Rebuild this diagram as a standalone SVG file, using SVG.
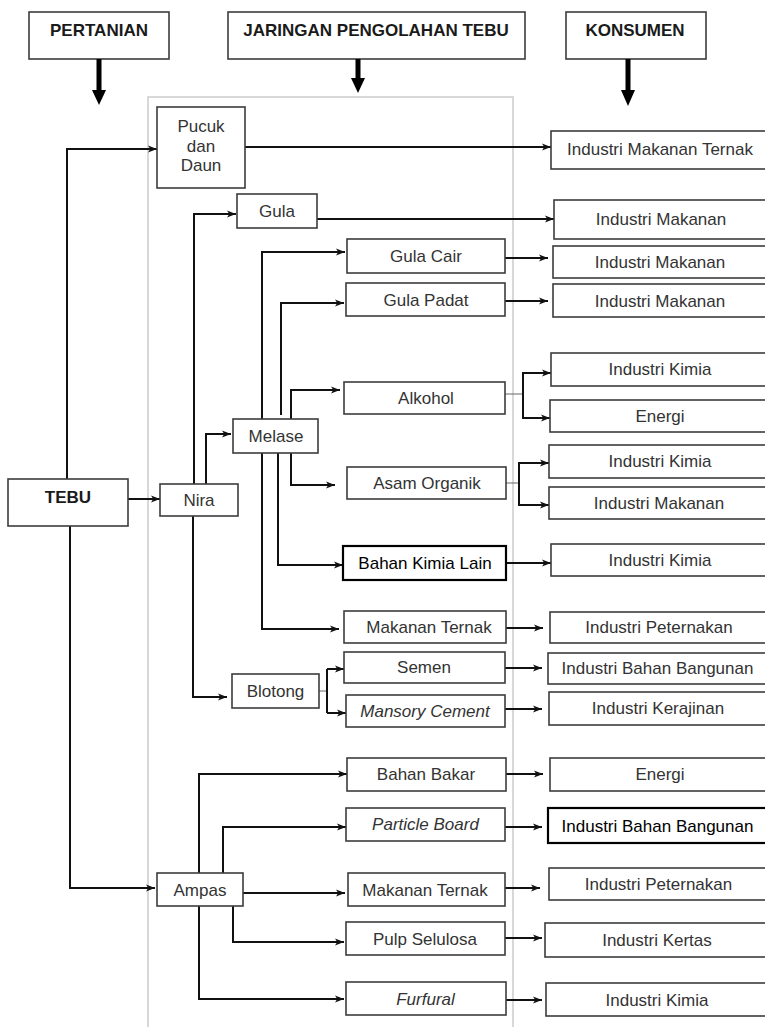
<svg xmlns="http://www.w3.org/2000/svg" width="765" height="1027" viewBox="0 0 765 1027">
<style>
.bx{fill:#fff;stroke:#3c3c3c;stroke-width:1.6}
.bk{fill:#fff;stroke:#000;stroke-width:2.2}
.t{font-family:"Liberation Sans",Arial,sans-serif;font-size:17px;fill:#333;text-anchor:middle}
.tb{font-family:"Liberation Sans",Arial,sans-serif;font-size:17px;fill:#000;text-anchor:middle}
.h{font-family:"Liberation Sans",Arial,sans-serif;font-size:17px;font-weight:bold;fill:#1a1a1a;text-anchor:middle}
.i{font-style:italic}
.c{fill:none;stroke:#111;stroke-width:2}
.th{fill:none;stroke:#666;stroke-width:1}
.frame{fill:none;stroke:#cfcfcf;stroke-width:1.6}
</style>
<defs>
<marker id="ar" viewBox="0 0 10 10" refX="10" refY="5" markerWidth="9" markerHeight="9" markerUnits="userSpaceOnUse" orient="auto">
<path d="M0,1 L10,5 L0,9 L2.5,5 z" fill="#111"/>
</marker>
</defs>
<rect class="frame" x="148" y="97" width="365" height="950"/>
<g id="headers">
<g id="h-pertanian"><rect class="bx" x="29" y="12" width="140" height="47"/><text class="h" x="99" y="36">PERTANIAN</text>
<rect x="96.5" y="59" width="5" height="32" fill="#000"/><path d="M92,90 L106,90 L99,105 z" fill="#000"/></g>
<g id="h-jaringan"><rect class="bx" x="228" y="12" width="297" height="47"/><text class="h" x="376" y="36">JARINGAN PENGOLAHAN TEBU</text>
<rect x="355.5" y="59" width="5" height="20" fill="#000"/><path d="M351,78 L365,78 L358,93 z" fill="#000"/></g>
<g id="h-konsumen"><rect class="bx" x="566" y="12" width="140" height="47"/><text class="h" x="635" y="36">KONSUMEN</text>
<rect x="625.5" y="59" width="5" height="32" fill="#000"/><path d="M621,90 L635,90 L628,106 z" fill="#000"/></g>
</g>
<g id="connectors">
<path class="c" d="M67,479 V149 H157" marker-end="url(#ar)"/>
<path class="c" d="M240,147 H551" marker-end="url(#ar)"/>
<path class="c" d="M128,499 H160" marker-end="url(#ar)"/>
<path class="c" d="M194,484 V214 H236" marker-end="url(#ar)"/>
<path class="c" d="M206,484 V434 H231" marker-end="url(#ar)"/>
<path class="c" d="M315,219 H554" marker-end="url(#ar)"/>
<path class="c" d="M262,419 V252 H345" marker-end="url(#ar)"/>
<path class="c" d="M281,415 V303 H344" marker-end="url(#ar)"/>
<path class="c" d="M291,419 V390 H340" marker-end="url(#ar)"/>
<path class="c" d="M291,453 V485 H335" marker-end="url(#ar)"/>
<path class="c" d="M278,453 V565 H343" marker-end="url(#ar)"/>
<path class="c" d="M262,453 V629 H339" marker-end="url(#ar)"/>
<path class="c" d="M193,516 V697 H227" marker-end="url(#ar)"/>
<path class="th" d="M319,691 H327"/>
<path class="c" d="M327,669 V713"/>
<path class="c" d="M327,669 H344" marker-end="url(#ar)"/>
<path class="c" d="M327,713 H346" marker-end="url(#ar)"/>
<path class="c" d="M503,258 H548" marker-end="url(#ar)"/>
<path class="c" d="M505,301 H548" marker-end="url(#ar)"/>
<path class="th" d="M505,394 H523"/>
<path class="c" d="M523,373 V418"/>
<path class="c" d="M522,373 H551" marker-end="url(#ar)"/>
<path class="c" d="M522,418 H550" marker-end="url(#ar)"/>
<path class="th" d="M506,483 H519"/>
<path class="c" d="M519,463 V505"/>
<path class="c" d="M518,463 H549" marker-end="url(#ar)"/>
<path class="c" d="M518,505 H549" marker-end="url(#ar)"/>
<path class="c" d="M506,563 H551" marker-end="url(#ar)"/>
<path class="c" d="M506,628 H543" marker-end="url(#ar)"/>
<path class="c" d="M503,668 H542" marker-end="url(#ar)"/>
<path class="c" d="M505,709 H542" marker-end="url(#ar)"/>
<path class="c" d="M70,526 V888 H155" marker-end="url(#ar)"/>
<path class="c" d="M199,873 V774 H347" marker-end="url(#ar)"/>
<path class="c" d="M223,873 V827 H346" marker-end="url(#ar)"/>
<path class="c" d="M243,893 H345" marker-end="url(#ar)"/>
<path class="c" d="M233,906 V942 H344" marker-end="url(#ar)"/>
<path class="c" d="M199,906 V999 H344" marker-end="url(#ar)"/>
<path class="c" d="M506,774 H543" marker-end="url(#ar)"/>
<path class="c" d="M505,827 H542" marker-end="url(#ar)"/>
<path class="c" d="M505,888 H540" marker-end="url(#ar)"/>
<path class="c" d="M505,938 H542" marker-end="url(#ar)"/>
<path class="c" d="M506,1000 H542" marker-end="url(#ar)"/>
</g>
<g id="tebu"><rect class="bx" x="8" y="479" width="120" height="47"/><text class="h" x="68" y="503">TEBU</text></g>
<g id="pucuk"><rect class="bx" x="157" y="107" width="88" height="81"/><text class="t" x="201" y="132">Pucuk</text><text class="t" x="201" y="152">dan</text><text class="t" x="201" y="171">Daun</text></g>
<g id="gula"><rect class="bx" x="237" y="194" width="80" height="34"/><text class="t" x="277" y="217">Gula</text></g>
<g id="melase"><rect class="bx" x="233" y="419" width="85" height="34"/><text class="t" x="276" y="442">Melase</text></g>
<g id="nira"><rect class="bx" x="160" y="484" width="78" height="32"/><text class="t" x="199" y="506">Nira</text></g>
<g id="blotong"><rect class="bx" x="232" y="674" width="87" height="34"/><text class="t" x="275.5" y="697">Blotong</text></g>
<g id="ampas"><rect class="bx" x="157" y="873" width="86" height="33"/><text class="t" x="200" y="896">Ampas</text></g>
<g id="gula-cair"><rect class="bx" x="347" y="239" width="158" height="34"/><text class="t" x="426" y="262">Gula Cair</text></g>
<g id="gula-padat"><rect class="bx" x="346" y="283" width="159" height="33"/><text class="t" x="426" y="306">Gula Padat</text></g>
<g id="alkohol"><rect class="bx" x="344" y="382" width="161" height="32"/><text class="t" x="426" y="404">Alkohol</text></g>
<g id="asam"><rect class="bx" x="347" y="467" width="159" height="32"/><text class="t" x="427" y="489">Asam Organik</text></g>
<g id="bkl"><rect class="bk" x="343" y="546" width="163" height="34"/><text class="tb" x="425" y="569">Bahan Kimia Lain</text></g>
<g id="mt1"><rect class="bx" x="344" y="611" width="162" height="32"/><text class="t" x="429" y="633">Makanan Ternak</text></g>
<g id="semen"><rect class="bx" x="344" y="652" width="161" height="31"/><text class="t" x="424" y="673">Semen</text></g>
<g id="mansory"><rect class="bx" x="346" y="695" width="159" height="32"/><text class="t i" x="425" y="717">Mansory Cement</text></g>
<g id="bahan-bakar"><rect class="bx" x="347" y="758" width="159" height="33"/><text class="t" x="426" y="780">Bahan Bakar</text></g>
<g id="particle"><rect class="bx" x="346" y="808" width="159" height="33"/><text class="t i" x="425.5" y="830">Particle Board</text></g>
<g id="mt2"><rect class="bx" x="348" y="873" width="157" height="33"/><text class="t" x="425" y="896">Makanan Ternak</text></g>
<g id="pulp"><rect class="bx" x="346" y="922" width="159" height="33"/><text class="t" x="425" y="945">Pulp Selulosa</text></g>
<g id="furfural"><rect class="bx" x="346" y="982" width="160" height="33"/><text class="t i" x="425.5" y="1005">Furfural</text></g>
<g id="k-imt"><rect class="bx" x="551" y="131" width="230" height="38"/><text class="t" x="660" y="155">Industri Makanan Ternak</text></g>
<g id="k-im1"><rect class="bx" x="554" y="200" width="230" height="39"/><text class="t" x="661" y="225">Industri Makanan</text></g>
<g id="k-im2"><rect class="bx" x="553" y="246" width="230" height="32"/><text class="t" x="660" y="268">Industri Makanan</text></g>
<g id="k-im3"><rect class="bx" x="553" y="284" width="230" height="33"/><text class="t" x="660" y="307">Industri Makanan</text></g>
<g id="k-ik1"><rect class="bx" x="551" y="353" width="230" height="33"/><text class="t" x="660" y="375">Industri Kimia</text></g>
<g id="k-en1"><rect class="bx" x="550" y="400" width="230" height="32"/><text class="t" x="660" y="422">Energi</text></g>
<g id="k-ik2"><rect class="bx" x="549" y="445" width="230" height="33"/><text class="t" x="660" y="467">Industri Kimia</text></g>
<g id="k-im4"><rect class="bx" x="549" y="487" width="230" height="32"/><text class="t" x="659" y="509">Industri Makanan</text></g>
<g id="k-ik3"><rect class="bx" x="551" y="544" width="230" height="32"/><text class="t" x="660" y="566">Industri Kimia</text></g>
<g id="k-ip1"><rect class="bx" x="550" y="612" width="230" height="31"/><text class="t" x="659" y="633">Industri Peternakan</text></g>
<g id="k-ibb1"><rect class="bx" x="548" y="653" width="230" height="31"/><text class="t" x="657.5" y="674">Industri Bahan Bangunan</text></g>
<g id="k-iker"><rect class="bx" x="549" y="692" width="230" height="33"/><text class="t" x="658" y="714">Industri Kerajinan</text></g>
<g id="k-en2"><rect class="bx" x="550" y="758" width="230" height="33"/><text class="t" x="660" y="780">Energi</text></g>
<g id="k-ibb2"><rect class="bk" x="548" y="808" width="230" height="35"/><text class="tb" x="657.5" y="832">Industri Bahan Bangunan</text></g>
<g id="k-ip2"><rect class="bx" x="549" y="868" width="230" height="32"/><text class="t" x="658.5" y="890">Industri Peternakan</text></g>
<g id="k-iker2"><rect class="bx" x="545" y="923" width="230" height="34"/><text class="t" x="657" y="946">Industri Kertas</text></g>
<g id="k-ik4"><rect class="bx" x="546" y="983" width="230" height="33"/><text class="t" x="657" y="1006">Industri Kimia</text></g>
</svg>
